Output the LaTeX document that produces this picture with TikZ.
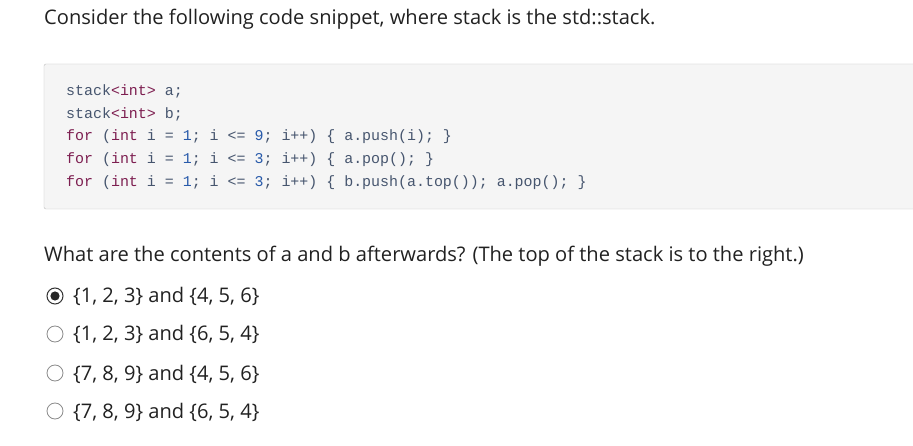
\documentclass[tikz,border=0pt]{standalone}
\usepackage{fontspec}
\setmainfont{Open Sans}
\newfontfamily\codefont{Liberation Mono}
\definecolor{kw}{RGB}{125,30,80}
\definecolor{nm}{RGB}{40,90,170}
\definecolor{idc}{RGB}{70,85,110}
\definecolor{txt}{RGB}{33,33,33}
\newcommand{\K}[1]{\textcolor{kw}{#1}}
\newcommand{\N}[1]{\textcolor{nm}{#1}}
\begin{document}
\begin{tikzpicture}[x=1pt,y=-1pt,
  main/.style={anchor=base west,inner sep=0,font=\fontsize{20.1}{22}\selectfont,text=txt},
  code/.style={anchor=base west,inner sep=0,font=\codefont\fontsize{14.95}{16}\selectfont,text=idc},
  radio/.style={circle,draw=black!45,line width=0.8pt,minimum size=16pt,inner sep=0}]
\useasboundingbox (0,0) rectangle (913,446);
\fill[white] (0,0) rectangle (913,446);
\node[main] (title) at (44,25) {Consider the following code snippet, where stack is the std::stack.};
\draw[draw=black!25,fill=black!4,rounded corners=2pt] (44,64) rectangle (925,209);
\node[code] (c1) at (66,96) {stack\K{<int>} a;};
\node[code] (c2) at (66,119) {stack\K{<int>} b;};
\node[code] (c3) at (66,141) {\K{for} (\K{int} i = \N{1}; i <= \N{9}; i++) \{ a.push(i); \}};
\node[code] (c4) at (66,164) {\K{for} (\K{int} i = \N{1}; i <= \N{3}; i++) \{ a.pop(); \}};
\node[code] (c5) at (66,187) {\K{for} (\K{int} i = \N{1}; i <= \N{3}; i++) \{ b.push(a.top()); a.pop(); \}};
\node[main] (q) at (44,262) {What are the contents of a and b afterwards? (The top of the stack is to the right.)};
\node[radio,draw=black!80,line width=1pt] (r1) at (55,296) {};
\fill[black!85] (r1) circle (4.6pt);
\node[radio] (r2) at (55,334) {};
\node[radio] (r3) at (55,373) {};
\node[radio] (r4) at (55,411) {};
\node[main] (o1) at (73,303) {\{1, 2, 3\} and \{4, 5, 6\}};
\node[main] (o2) at (73,341) {\{1, 2, 3\} and \{6, 5, 4\}};
\node[main] (o3) at (73,380) {\{7, 8, 9\} and \{4, 5, 6\}};
\node[main] (o4) at (73,418) {\{7, 8, 9\} and \{6, 5, 4\}};
\end{tikzpicture}
\end{document}
